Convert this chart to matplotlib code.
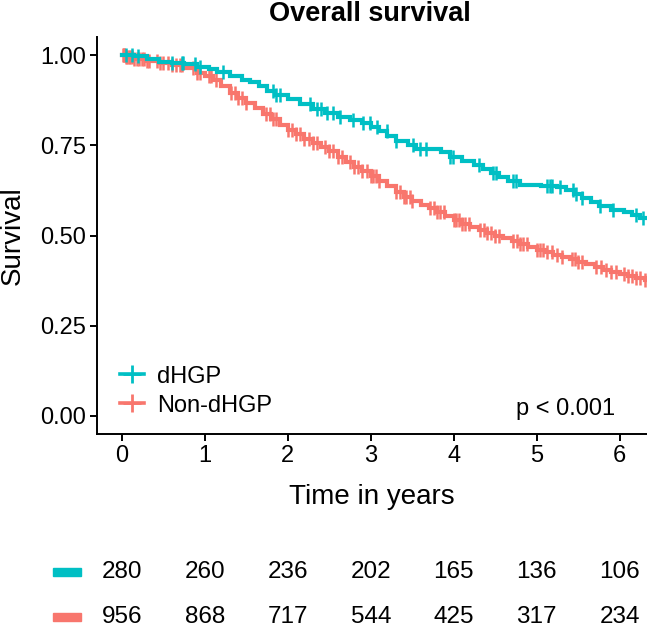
"""
Kaplan-Meier style overall survival plot, dHGP vs Non-dHGP, with
a number-at-risk table underneath.
"""

import numpy as np
import matplotlib
matplotlib.use("Agg")
import matplotlib.pyplot as plt
from matplotlib.lines import Line2D
from matplotlib.patches import Rectangle
import matplotlib.transforms as mtransforms

plt.rcParams["font.family"] = ["Liberation Sans", "DejaVu Sans"]

# --- step curves (time in years, survival) ---
dhgp_time = [0.00, 0.15, 0.30, 0.45, 0.60, 0.75, 0.90, 1.05, 1.15, 1.30,
             1.45, 1.55, 1.65, 1.75, 1.85, 2.00, 2.15, 2.30, 2.45, 2.60,
             2.75, 2.90, 3.00, 3.10, 3.20, 3.30, 3.45, 3.55, 3.85, 3.95,
             4.10, 4.25, 4.35, 4.45, 4.55, 4.65, 4.80, 5.05, 5.25, 5.35,
             5.45, 5.55, 5.65, 5.75, 5.90, 6.05, 6.15, 6.25, 6.35]
dhgp_surv = [1.000, 0.996, 0.989, 0.982, 0.979, 0.975, 0.968, 0.961, 0.954, 0.943,
             0.932, 0.925, 0.914, 0.900, 0.890, 0.879, 0.864, 0.850, 0.839, 0.828,
             0.821, 0.811, 0.800, 0.789, 0.775, 0.761, 0.750, 0.741, 0.730, 0.717,
             0.706, 0.695, 0.684, 0.672, 0.662, 0.650, 0.640, 0.637, 0.635, 0.627,
             0.615, 0.605, 0.593, 0.582, 0.572, 0.566, 0.558, 0.548, 0.540]

non_time = [0.00, 0.05, 0.15, 0.30, 0.45, 0.60, 0.75, 0.90, 1.00, 1.10,
            1.20, 1.30, 1.40, 1.50, 1.60, 1.70, 1.80, 1.90, 2.00, 2.10,
            2.20, 2.30, 2.40, 2.50, 2.60, 2.70, 2.80, 2.90, 3.00, 3.10,
            3.20, 3.30, 3.40, 3.50, 3.60, 3.70, 3.80, 3.90, 4.00, 4.10,
            4.20, 4.30, 4.40, 4.50, 4.60, 4.70, 4.80, 4.90, 5.00, 5.10,
            5.20, 5.30, 5.40, 5.50, 5.60, 5.70, 5.80, 5.90, 6.00, 6.10,
            6.20, 6.30, 6.35]
non_surv = [1.000, 0.995, 0.990, 0.983, 0.978, 0.972, 0.965, 0.950, 0.942, 0.930,
            0.913, 0.895, 0.880, 0.866, 0.852, 0.838, 0.822, 0.806, 0.793, 0.781,
            0.768, 0.757, 0.745, 0.733, 0.718, 0.703, 0.690, 0.678, 0.664, 0.650,
            0.636, 0.620, 0.606, 0.595, 0.585, 0.575, 0.564, 0.553, 0.543, 0.533,
            0.523, 0.515, 0.507, 0.499, 0.492, 0.484, 0.476, 0.468, 0.460, 0.453,
            0.446, 0.440, 0.434, 0.427, 0.420, 0.412, 0.405, 0.399, 0.393, 0.387,
            0.381, 0.376, 0.374]

# censoring times
dhgp_cens = [0.05, 0.12, 0.20, 0.60, 0.72, 0.74, 0.88, 0.94, 1.22, 1.82,
             1.86, 1.90, 2.27, 2.35, 2.40, 2.47, 2.54, 2.63, 2.79, 2.91,
             2.99, 3.07, 3.19, 3.31, 3.51, 3.59, 3.67, 3.95, 3.99, 4.31,
             4.47, 4.51, 4.71, 4.75, 5.12, 5.16, 5.19, 5.28, 5.44, 5.48,
             5.55, 5.76, 5.92, 6.20, 6.28]
non_cens = [0.01, 0.02, 0.03, 0.05, 0.06, 0.08, 0.10, 0.12, 0.15, 0.18,
            0.21, 0.24, 0.27, 0.30, 0.33, 0.42, 0.46, 0.50, 0.55, 0.61,
            0.65, 0.70, 0.73, 0.86, 0.90, 0.94, 1.05, 1.08, 1.13, 1.32,
            1.36, 1.40, 1.45, 1.50, 1.74, 1.78, 1.82, 1.86, 2.00, 2.05,
            2.10, 2.15, 2.20, 2.25, 2.30, 2.35, 2.45, 2.50, 2.55, 2.60,
            2.65, 2.75, 2.80, 2.85, 2.90, 2.95, 3.00, 3.03, 3.06, 3.10,
            3.30, 3.35, 3.40, 3.43, 3.47, 3.50, 3.72, 3.76, 3.80, 3.84,
            3.88, 4.00, 4.03, 4.06, 4.10, 4.14, 4.18, 4.32, 4.36, 4.40,
            4.45, 4.50, 4.55, 4.72, 4.76, 4.80, 4.84, 4.88, 5.00, 5.04,
            5.08, 5.12, 5.18, 5.24, 5.30, 5.42, 5.46, 5.50, 5.55, 5.72,
            5.78, 5.84, 5.90, 5.96, 6.05, 6.10, 6.15, 6.20, 6.25, 6.30]

# numbers at risk
risk_times = [0, 1, 2, 3, 4, 5, 6]
risk_dhgp = [280, 260, 236, 202, 165, 136, 106]
risk_non = [956, 868, 717, 544, 425, 317, 234]

col_dhgp = "#00BFC4"
col_non = "#F8766D"


def step_value(times, surv, at):
    times = np.asarray(times)
    surv = np.asarray(surv)
    idx = np.searchsorted(times, at, side="right") - 1
    return surv[idx]


fig = plt.figure(figsize=(6.47, 6.27), dpi=100)
W, H = 647, 627
ax = fig.add_axes([97 / W, 1 - 434 / H, 550 / W, 397 / H])

for t, s, c, col in [(non_time, non_surv, non_cens, col_non),
                     (dhgp_time, dhgp_surv, dhgp_cens, col_dhgp)]:
    ax.plot(t, s, drawstyle="steps-post", color=col, lw=3.0,
            solid_joinstyle="miter")
    ax.plot(c, step_value(t, s, c), ls="none", marker="|", color=col,
            ms=10, mew=1.8)

ax.set_xlim(-0.3, 6.33)
ax.set_ylim(-0.05, 1.05)
ax.set_xticks(risk_times)
ax.set_yticks([0, 0.25, 0.5, 0.75, 1.0])
ax.set_yticklabels(["0.00", "0.25", "0.50", "0.75", "1.00"])
for side in ["top", "right"]:
    ax.spines[side].set_visible(False)
for side in ["left", "bottom"]:
    ax.spines[side].set_linewidth(1.4)
ax.tick_params(length=5, width=1.4, labelsize=17, color="black",
               pad=3)

handles = [Line2D([], [], color=col_dhgp, lw=2.6, marker="+", ms=13, mew=2),
           Line2D([], [], color=col_non, lw=2.6, marker="+", ms=13, mew=2)]
ax.legend(handles, ["dHGP", "Non-dHGP"], loc="lower left",
          bbox_to_anchor=(0.025, 0.02), frameon=False, fontsize=17,
          handlelength=1.0, handletextpad=0.55, labelspacing=0.3,
          borderaxespad=0)

fig.text(615 / W, 1 - 409 / H, "p < 0.001", ha="right", va="center",
         fontsize=17)
fig.text(370 / W, 1 - 14 / H, "Overall survival", ha="center", va="center",
         fontsize=19.5, fontweight="bold")
fig.text(13 / W, 1 - 236 / H, "Survival", ha="center", va="center",
         rotation=90, fontsize=20)
fig.text(372 / W, 1 - 497 / H, "Time in years", ha="center", va="center",
         fontsize=20)

# risk table, aligned with the main x axis
trans = mtransforms.blended_transform_factory(ax.transData, fig.transFigure)
for yy, vals, col in [(572, risk_dhgp, col_dhgp), (617, risk_non, col_non)]:
    yf = 1 - yy / H
    for x, v in zip(risk_times, vals):
        fig.text(x, yf, str(v), transform=trans, ha="center", va="center",
                 fontsize=17.5)
    fig.patches.append(Rectangle((53 / W, yf - 4 / H), 28 / W, 8 / H,
                                 transform=fig.transFigure, color=col))

fig.savefig("out.png", dpi=100)
